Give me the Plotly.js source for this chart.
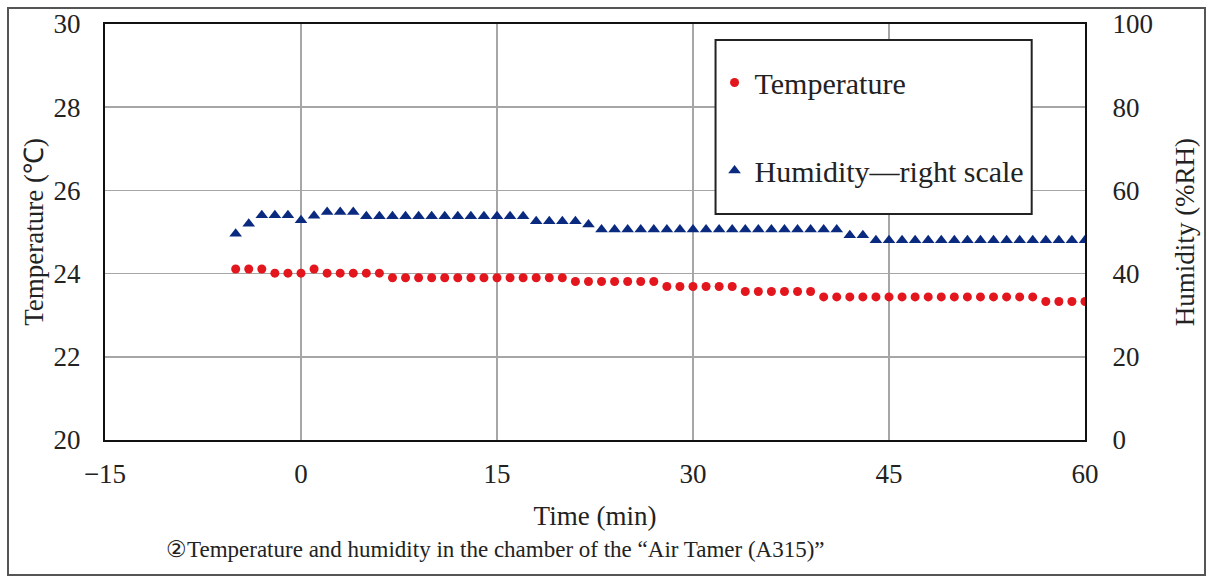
<!DOCTYPE html>
<html>
<head>
<meta charset="utf-8">
<script src="https://cdn.plot.ly/plotly-3.0.1.min.js"></script>
<style>
  html, body { margin: 0; padding: 0; background: #fff; }
  #wrap { position: relative; width: 1210px; height: 580px; }
  #chart { width: 1210px; height: 580px; }
  #frame { position: absolute; left: 7px; top: 7px; width: 1199px; height: 569px;
           border: 2px solid #555; pointer-events: none; box-sizing: border-box; }
</style>
</head>
<body>
<div id="wrap">
  <div id="chart"></div>
  <div id="frame"></div>
</div>
<script>
// Time (min), one reading per minute
const timeMin = [-5,-4,-3,-2,-1,0,1,2,3,4,5,6,7,8,9,10,11,12,13,14,15,16,17,18,19,20,
  21,22,23,24,25,26,27,28,29,30,31,32,33,34,35,36,37,38,39,40,41,42,43,44,45,46,47,48,49,50,
  51,52,53,54,55,56,57,58,59,60];

// Temperature (°C), left scale
const temperature = [24.11,24.11,24.11,24.01,24.01,24.01,24.11,24.01,24.01,24.01,24.01,24.01,
  23.9,23.9,23.9,23.9,23.9,23.9,23.9,23.9,23.9,23.9,23.9,23.9,23.9,23.9,
  23.81,23.81,23.81,23.81,23.81,23.81,23.81,
  23.69,23.69,23.69,23.69,23.69,23.69,
  23.57,23.57,23.57,23.57,23.57,23.57,
  23.44,23.44,23.44,23.44,23.44,23.44,23.44,23.44,23.44,23.44,23.44,23.44,23.44,23.44,23.44,23.44,23.44,
  23.33,23.33,23.33,23.33];

// Humidity (%RH), right scale
const humidity = [49.6,52.0,54.0,54.0,54.0,52.8,53.9,54.8,54.8,54.8,
  53.8,53.8,53.8,53.8,53.8,53.8,53.8,53.8,53.8,53.8,53.8,53.8,53.8,
  52.6,52.6,52.6,52.6,51.8,
  50.6,50.6,50.6,50.6,50.6,50.6,50.6,50.6,50.6,50.6,50.6,50.6,50.6,50.6,50.6,50.6,50.6,50.6,50.6,
  49.2,49.2,
  48.0,48.0,48.0,48.0,48.0,48.0,48.0,48.0,48.0,48.0,48.0,48.0,48.0,48.0,48.0,48.0,48.0];

const xTicks = [-15,0,15,30,45,60];
const xTickText = ['\u221215','0','15','30','45','60'];
const yTicks = [20,22,24,26,28,30];
const y2Ticks = [0,20,40,60,80,100];

const FONT = 'Liberation Serif, Times New Roman, serif';

const traces = [
  {
    x: timeMin, y: temperature, name: 'Temperature',
    type: 'scatter', mode: 'markers', yaxis: 'y',
    legendgroup: 'a',
    marker: { symbol: 'circle', size: 9, color: '#e3161e' }
  },
  {
    x: timeMin, y: humidity, name: 'Humidity\u2014right scale',
    type: 'scatter', mode: 'markers', yaxis: 'y2',
    legendgroup: 'b',
    marker: { symbol: 'triangle-up', size: 11, color: '#0a2a80' }
  }
];

const layout = {
  width: 1210, height: 580,
  margin: { l: 105, r: 125, t: 24, b: 140 },
  paper_bgcolor: '#fff', plot_bgcolor: '#fff',
  font: { family: FONT, size: 27, color: '#222' },
  showlegend: true,
  legend: {
    x: 0.622, xanchor: 'left', y: 0.922, yanchor: 'top',
    bgcolor: 'rgba(0,0,0,0)', borderwidth: 0,
    font: { family: FONT, size: 30, color: '#222' },
    traceorder: 'grouped', tracegroupgap: 46
  },
  xaxis: {
    range: [-15, 60], tickvals: xTicks, ticktext: xTickText,
    showgrid: true, gridcolor: '#a6a6a6', gridwidth: 1.5,
    showline: true, linecolor: '#111', linewidth: 2, mirror: true,
    zeroline: false, ticks: '', ticklabelstandoff: 9,
    tickfont: { family: FONT, size: 27, color: '#222' },
    title: { text: 'Time (min)', standoff: 18, font: { family: FONT, size: 27, color: '#222' } }
  },
  yaxis: {
    range: [20, 30], tickvals: yTicks,
    showgrid: true, gridcolor: '#a6a6a6', gridwidth: 1.5,
    showline: true, linecolor: '#111', linewidth: 2, mirror: true,
    zeroline: false, ticks: '', ticklabelstandoff: 17,
    tickfont: { family: FONT, size: 27, color: '#222' },
    title: { text: 'Temperature (\u2103)', standoff: 2, font: { family: FONT, size: 27, color: '#222' } }
  },
  yaxis2: {
    range: [0, 100], tickvals: y2Ticks, overlaying: 'y', side: 'right',
    showgrid: false, showline: true, linecolor: '#111', linewidth: 2,
    zeroline: false, ticks: '', ticklabelstandoff: 20,
    tickfont: { family: FONT, size: 27, color: '#222' },
    title: { text: 'Humidity (%RH)', standoff: 23, font: { family: FONT, size: 27, color: '#222' } }
  },
  shapes: [
    { type: 'rect', xref: 'paper', yref: 'paper', layer: 'above',
      x0: 0.623, x1: 0.9456, y0: 0.5433, y1: 0.9615,
      line: { color: '#222', width: 2 }, fillcolor: '#fff' }
  ],
  annotations: [
    { text: '\u2461Temperature and humidity in the chamber of the \u201CAir Tamer (A315)\u201D',
      xref: 'paper', yref: 'paper', x: 0.398, y: -0.264, xanchor: 'center', yanchor: 'middle',
      showarrow: false, font: { family: FONT, size: 23, color: '#222' } }
  ]
};

Plotly.newPlot('chart', traces, layout, { staticPlot: true, displayModeBar: false });
</script>
</body>
</html>
